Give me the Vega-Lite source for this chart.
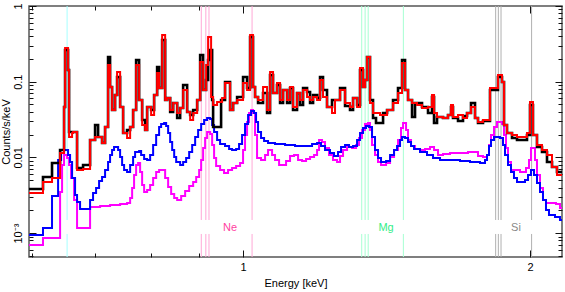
{
"$schema":"https://vega.github.io/schema/vega-lite/v6.json",
"width":533,"height":251,
"autosize":{"type":"none"},
"padding":{"left":29,"top":6,"right":3,"bottom":35},
"config":{"view":{"stroke":"#555","strokeWidth":1.5},"font":"Liberation Sans","axis":{"grid":false,"domain":false,"labelFont":"Liberation Sans","titleFont":"Liberation Sans","tickColor":"#111","tickWidth":1,"labelColor":"#000","titleColor":"#000","titleFontWeight":"normal"}},
"datasets":{
"lines":[{"e":0.6537,"g":"O"},{"e":0.904,"g":"Ne"},{"e":0.914,"g":"Ne"},{"e":0.921,"g":"Ne"},{"e":1.022,"g":"Ne"},{"e":1.332,"g":"Mg"},{"e":1.343,"g":"Mg"},{"e":1.353,"g":"Mg"},{"e":1.473,"g":"Mg"},{"e":1.841,"g":"Si"},{"e":1.853,"g":"Si"},{"e":1.865,"g":"Si"},{"e":2.008,"g":"Si"}],
"labels":[{"e":0.969,"t":"Ne"},{"e":1.4127,"t":"Mg"},{"e":1.9337,"t":"Si"}],
"black":[{"e":0.5962,"c":0.003823},{"e":0.6167,"c":0.005507},{"e":0.6303,"c":0.008432},{"e":0.6427,"c":0.01252},{"e":0.6489,"c":0.04631},{"e":0.6505,"c":0.2623},{"e":0.6552,"c":0.1427},{"e":0.6568,"c":0.02165},{"e":0.6696,"c":0.007241},{"e":0.6794,"c":0.007934},{"e":0.691,"c":0.01697},{"e":0.6994,"c":0.02679},{"e":0.7045,"c":0.01859},{"e":0.7113,"c":0.01549},{"e":0.7165,"c":0.02521},{"e":0.7217,"c":0.212},{"e":0.7252,"c":0.0851},{"e":0.7287,"c":0.04228},{"e":0.734,"c":0.06673},{"e":0.7376,"c":0.1154},{"e":0.743,"c":0.04631},{"e":0.7484,"c":0.021},{"e":0.7556,"c":0.02301},{"e":0.7612,"c":0.02521},{"e":0.7667,"c":0.04228},{"e":0.7723,"c":0.1935},{"e":0.7779,"c":0.05731},{"e":0.7836,"c":0.03119},{"e":0.7893,"c":0.02301},{"e":0.7931,"c":0.04631},{"e":0.8008,"c":0.04228},{"e":0.8066,"c":0.06673},{"e":0.8125,"c":0.1564},{"e":0.8164,"c":0.08255},{"e":0.8224,"c":0.3555},{"e":0.8284,"c":0.05731},{"e":0.8324,"c":0.06091},{"e":0.8385,"c":0.03978},{"e":0.8446,"c":0.05231},{"e":0.8528,"c":0.03314},{"e":0.859,"c":0.04492},{"e":0.8652,"c":0.09045},{"e":0.8736,"c":0.03978},{"e":0.88,"c":0.03631},{"e":0.8864,"c":0.04228},{"e":0.895,"c":0.05731},{"e":0.9015,"c":0.2253},{"e":0.908,"c":0.07769},{"e":0.9146,"c":0.1053},{"e":0.919,"c":0.1935},{"e":0.9235,"c":0.2623},{"e":0.928,"c":0.05731},{"e":0.9302,"c":0.02521},{"e":0.9483,"c":0.05731},{"e":0.9574,"c":0.09908},{"e":0.9691,"c":0.04228},{"e":0.9762,"c":0.05231},{"e":0.9857,"c":0.06279},{"e":1.0,"c":0.1154},{"e":1.0097,"c":0.08255},{"e":1.0171,"c":0.3894},{"e":1.0244,"c":0.0851},{"e":1.0294,"c":0.06279},{"e":1.0369,"c":0.05231},{"e":1.0495,"c":0.07091},{"e":1.0597,"c":0.03859},{"e":1.0674,"c":0.1226},{"e":1.0751,"c":0.07091},{"e":1.0855,"c":0.09045},{"e":1.0935,"c":0.05231},{"e":1.1015,"c":0.07769},{"e":1.1122,"c":0.05231},{"e":1.1202,"c":0.08255},{"e":1.1283,"c":0.04228},{"e":1.1393,"c":0.07091},{"e":1.1476,"c":0.04922},{"e":1.156,"c":0.08255},{"e":1.1672,"c":0.0731},{"e":1.1757,"c":0.05231},{"e":1.1843,"c":0.06673},{"e":1.1958,"c":0.06091},{"e":1.2044,"c":0.1154},{"e":1.2131,"c":0.07769},{"e":1.2249,"c":0.04631},{"e":1.2398,"c":0.05731},{"e":1.264,"c":0.08255},{"e":1.2794,"c":0.04774},{"e":1.2949,"c":0.04228},{"e":1.3044,"c":0.06091},{"e":1.3171,"c":0.04922},{"e":1.3266,"c":0.1427},{"e":1.3362,"c":0.0851},{"e":1.3427,"c":0.1053},{"e":1.3492,"c":0.212},{"e":1.359,"c":0.05731},{"e":1.3689,"c":0.03314},{"e":1.3788,"c":0.02847},{"e":1.4025,"c":0.03859},{"e":1.4161,"c":0.04228},{"e":1.4367,"c":0.05731},{"e":1.4541,"c":0.08255},{"e":1.4683,"c":0.1935},{"e":1.479,"c":0.07769},{"e":1.4897,"c":0.05731},{"e":1.5042,"c":0.03416},{"e":1.5151,"c":0.05231},{"e":1.5409,"c":0.04631},{"e":1.5634,"c":0.03859},{"e":1.5786,"c":0.06279},{"e":1.5863,"c":0.02847},{"e":1.5978,"c":0.03416},{"e":1.621,"c":0.03314},{"e":1.6407,"c":0.03631},{"e":1.6527,"c":0.04631},{"e":1.6607,"c":0.03314},{"e":1.6809,"c":0.03025},{"e":1.7013,"c":0.03522},{"e":1.7179,"c":0.03859},{"e":1.7345,"c":0.05231},{"e":1.7514,"c":0.03314},{"e":1.7641,"c":0.02847},{"e":1.7855,"c":0.03025},{"e":1.816,"c":0.07769},{"e":1.8514,"c":0.1154},{"e":1.8694,"c":0.09908},{"e":1.8785,"c":0.02679},{"e":1.8921,"c":0.021},{"e":1.9151,"c":0.01804},{"e":1.9384,"c":0.01697},{"e":1.9858,"c":0.01976},{"e":2.0002,"c":0.04922},{"e":2.0147,"c":0.01976},{"e":2.0343,"c":0.01372},{"e":2.059,"c":0.01178},{"e":2.0841,"c":0.008692},{"e":2.1094,"c":0.007465},{"e":2.135,"c":0.006412},{"e":2.161,"c":0.006412}],
"red":[{"e":0.5962,"c":0.003385},{"e":0.6167,"c":0.00473},{"e":0.6303,"c":0.005342},{"e":0.6427,"c":0.01143},{"e":0.6489,"c":0.04631},{"e":0.6505,"c":0.2787},{"e":0.6552,"c":0.1427},{"e":0.6568,"c":0.01859},{"e":0.6616,"c":0.021},{"e":0.6632,"c":0.02165},{"e":0.6696,"c":0.006815},{"e":0.6794,"c":0.007024},{"e":0.691,"c":0.01697},{"e":0.6994,"c":0.01859},{"e":0.7113,"c":0.01549},{"e":0.7165,"c":0.02521},{"e":0.7217,"c":0.1662},{"e":0.7252,"c":0.0851},{"e":0.7287,"c":0.04228},{"e":0.734,"c":0.06673},{"e":0.7376,"c":0.1343},{"e":0.743,"c":0.04631},{"e":0.7484,"c":0.021},{"e":0.7556,"c":0.01804},{"e":0.7612,"c":0.02521},{"e":0.7667,"c":0.04228},{"e":0.7723,"c":0.1662},{"e":0.7779,"c":0.05731},{"e":0.7836,"c":0.02679},{"e":0.7893,"c":0.02301},{"e":0.7931,"c":0.04631},{"e":0.8008,"c":0.03631},{"e":0.8066,"c":0.06673},{"e":0.8125,"c":0.1302},{"e":0.8164,"c":0.08255},{"e":0.8224,"c":0.4139},{"e":0.8284,"c":0.05731},{"e":0.8324,"c":0.06091},{"e":0.8385,"c":0.04228},{"e":0.8446,"c":0.05231},{"e":0.8528,"c":0.03859},{"e":0.859,"c":0.04492},{"e":0.8652,"c":0.07769},{"e":0.8736,"c":0.03978},{"e":0.88,"c":0.03119},{"e":0.8864,"c":0.03859},{"e":0.895,"c":0.05731},{"e":0.9015,"c":0.1821},{"e":0.908,"c":0.07769},{"e":0.9146,"c":0.1662},{"e":0.919,"c":0.3894},{"e":0.9257,"c":0.06279},{"e":0.9302,"c":0.04922},{"e":0.9392,"c":0.05392},{"e":0.9506,"c":0.06091},{"e":0.9574,"c":0.09611},{"e":0.9691,"c":0.04228},{"e":0.9762,"c":0.05231},{"e":0.9857,"c":0.05731},{"e":1.0,"c":0.09611},{"e":1.0097,"c":0.07769},{"e":1.0171,"c":0.4139},{"e":1.0244,"c":0.0851},{"e":1.0294,"c":0.06279},{"e":1.0369,"c":0.05731},{"e":1.0495,"c":0.0851},{"e":1.0597,"c":0.04228},{"e":1.0674,"c":0.1343},{"e":1.0751,"c":0.07091},{"e":1.0855,"c":0.09611},{"e":1.0935,"c":0.05731},{"e":1.1015,"c":0.07769},{"e":1.1122,"c":0.05731},{"e":1.1202,"c":0.0851},{"e":1.1283,"c":0.04631},{"e":1.1393,"c":0.07091},{"e":1.1476,"c":0.05731},{"e":1.156,"c":0.07769},{"e":1.1672,"c":0.06279},{"e":1.1757,"c":0.05731},{"e":1.1843,"c":0.06279},{"e":1.1958,"c":0.05731},{"e":1.2044,"c":0.1053},{"e":1.2131,"c":0.06279},{"e":1.2249,"c":0.04631},{"e":1.2398,"c":0.03859},{"e":1.2488,"c":0.05731},{"e":1.264,"c":0.07769},{"e":1.2794,"c":0.05231},{"e":1.2949,"c":0.04631},{"e":1.3044,"c":0.06091},{"e":1.3171,"c":0.04631},{"e":1.3266,"c":0.1517},{"e":1.3362,"c":0.0851},{"e":1.3427,"c":0.1053},{"e":1.3492,"c":0.212},{"e":1.359,"c":0.05231},{"e":1.3689,"c":0.03859},{"e":1.3922,"c":0.03631},{"e":1.4161,"c":0.04228},{"e":1.4367,"c":0.05231},{"e":1.4541,"c":0.07091},{"e":1.4683,"c":0.1766},{"e":1.479,"c":0.07769},{"e":1.4897,"c":0.05731},{"e":1.5042,"c":0.05231},{"e":1.5224,"c":0.04922},{"e":1.5409,"c":0.04492},{"e":1.5634,"c":0.04631},{"e":1.5786,"c":0.06673},{"e":1.5863,"c":0.03859},{"e":1.5978,"c":0.03416},{"e":1.621,"c":0.03314},{"e":1.6407,"c":0.03631},{"e":1.6527,"c":0.04922},{"e":1.6607,"c":0.03416},{"e":1.6809,"c":0.03631},{"e":1.7013,"c":0.03314},{"e":1.7179,"c":0.03859},{"e":1.7345,"c":0.04631},{"e":1.7514,"c":0.03314},{"e":1.7641,"c":0.02935},{"e":1.7855,"c":0.03119},{"e":1.816,"c":0.08255},{"e":1.8514,"c":0.1226},{"e":1.8694,"c":0.09908},{"e":1.8785,"c":0.02679},{"e":1.8921,"c":0.021},{"e":1.9151,"c":0.01976},{"e":1.9384,"c":0.01859},{"e":1.9858,"c":0.021},{"e":2.0002,"c":0.05392},{"e":2.0147,"c":0.01976},{"e":2.0343,"c":0.01458},{"e":2.059,"c":0.01252},{"e":2.0841,"c":0.01075},{"e":2.1094,"c":0.007465},{"e":2.135,"c":0.005853},{"e":2.161,"c":0.005853}],
"blue":[{"e":0.5962,"c":0.0009438},{"e":0.6167,"c":0.001167},{"e":0.6303,"c":0.00309},{"e":0.6396,"c":0.009238},{"e":0.6443,"c":0.01143},{"e":0.6489,"c":0.01252},{"e":0.6552,"c":0.01075},{"e":0.6584,"c":0.008692},{"e":0.6616,"c":0.005342},{"e":0.6664,"c":0.003186},{"e":0.6696,"c":0.002574},{"e":0.6745,"c":0.00208},{"e":0.691,"c":0.002736},{"e":0.696,"c":0.003385},{"e":0.7011,"c":0.003941},{"e":0.7062,"c":0.004876},{"e":0.7113,"c":0.005507},{"e":0.7165,"c":0.006815},{"e":0.7217,"c":0.008692},{"e":0.7252,"c":0.01075},{"e":0.7287,"c":0.01252},{"e":0.7322,"c":0.01372},{"e":0.7394,"c":0.01252},{"e":0.743,"c":0.01012},{"e":0.7466,"c":0.007934},{"e":0.7502,"c":0.006815},{"e":0.7556,"c":0.006412},{"e":0.7612,"c":0.007934},{"e":0.7667,"c":0.01012},{"e":0.7704,"c":0.01178},{"e":0.7779,"c":0.01214},{"e":0.7817,"c":0.01075},{"e":0.7874,"c":0.009517},{"e":0.7931,"c":0.009238},{"e":0.7989,"c":0.01075},{"e":0.8047,"c":0.01458},{"e":0.8106,"c":0.01976},{"e":0.8164,"c":0.02521},{"e":0.8204,"c":0.02761},{"e":0.8264,"c":0.02847},{"e":0.8304,"c":0.02599},{"e":0.8344,"c":0.021},{"e":0.8385,"c":0.01597},{"e":0.8426,"c":0.01252},{"e":0.8467,"c":0.01012},{"e":0.8508,"c":0.008692},{"e":0.859,"c":0.007934},{"e":0.8652,"c":0.008692},{"e":0.8715,"c":0.009812},{"e":0.8779,"c":0.01178},{"e":0.8843,"c":0.01458},{"e":0.8907,"c":0.01859},{"e":0.8971,"c":0.02301},{"e":0.9037,"c":0.02761},{"e":0.9102,"c":0.03119},{"e":0.9168,"c":0.03314},{"e":0.9235,"c":0.03215},{"e":0.928,"c":0.02679},{"e":0.9324,"c":0.02165},{"e":0.9392,"c":0.01697},{"e":0.946,"c":0.01502},{"e":0.9574,"c":0.01414},{"e":0.9668,"c":0.01291},{"e":0.9738,"c":0.01252},{"e":0.9833,"c":0.01291},{"e":0.9904,"c":0.01502},{"e":0.9976,"c":0.01976},{"e":1.0048,"c":0.02761},{"e":1.0122,"c":0.03631},{"e":1.0196,"c":0.04101},{"e":1.0269,"c":0.03859},{"e":1.0319,"c":0.02935},{"e":1.0369,"c":0.02165},{"e":1.0444,"c":0.01804},{"e":1.0521,"c":0.01646},{"e":1.0622,"c":0.01549},{"e":1.0803,"c":0.01502},{"e":1.1068,"c":0.01458},{"e":1.1338,"c":0.01414},{"e":1.1814,"c":0.01502},{"e":1.1958,"c":0.01549},{"e":1.2073,"c":0.01414},{"e":1.219,"c":0.01252},{"e":1.2338,"c":0.01143},{"e":1.2458,"c":0.01043},{"e":1.2579,"c":0.01178},{"e":1.2671,"c":0.01372},{"e":1.2794,"c":0.01458},{"e":1.2918,"c":0.01372},{"e":1.3044,"c":0.01414},{"e":1.3171,"c":0.01697},{"e":1.3266,"c":0.021},{"e":1.3362,"c":0.02445},{"e":1.3459,"c":0.02599},{"e":1.3557,"c":0.02521},{"e":1.3656,"c":0.01859},{"e":1.3755,"c":0.01252},{"e":1.3855,"c":0.009812},{"e":1.3956,"c":0.008692},{"e":1.4127,"c":0.008961},{"e":1.4264,"c":0.01075},{"e":1.4402,"c":0.01252},{"e":1.4507,"c":0.01414},{"e":1.4612,"c":0.01697},{"e":1.4683,"c":0.01859},{"e":1.479,"c":0.01804},{"e":1.4897,"c":0.01597},{"e":1.5005,"c":0.01414},{"e":1.5114,"c":0.01291},{"e":1.5335,"c":0.01178},{"e":1.5596,"c":0.01075},{"e":1.5824,"c":0.009812},{"e":1.6094,"c":0.009238},{"e":1.689,"c":0.008961},{"e":1.7303,"c":0.008692},{"e":1.7727,"c":0.008432},{"e":1.7942,"c":0.009238},{"e":1.8029,"c":0.01075},{"e":1.8116,"c":0.01414},{"e":1.8204,"c":0.01697},{"e":1.8337,"c":0.01859},{"e":1.8604,"c":0.01804},{"e":1.8739,"c":0.01458},{"e":1.883,"c":0.01075},{"e":1.8967,"c":0.007934},{"e":1.9105,"c":0.006412},{"e":1.9243,"c":0.005342},{"e":1.9384,"c":0.00473},{"e":1.9762,"c":0.005027},{"e":1.9906,"c":0.005853},{"e":2.005,"c":0.006815},{"e":2.0196,"c":0.005853},{"e":2.0343,"c":0.004588},{"e":2.0491,"c":0.00349},{"e":2.064,"c":0.002736},{"e":2.079,"c":0.002018},{"e":2.0941,"c":0.001734},{"e":2.1247,"c":0.001632},{"e":2.1505,"c":0.001489},{"e":2.161,"c":0.001489}],
"magenta":[{"e":0.5962,"c":0.0006962},{"e":0.6167,"c":0.0008614},{"e":0.6427,"c":0.00349},{"e":0.6458,"c":0.007934},{"e":0.6489,"c":0.01075},{"e":0.6537,"c":0.009812},{"e":0.6568,"c":0.007934},{"e":0.66,"c":0.005342},{"e":0.6648,"c":0.002736},{"e":0.6696,"c":0.001167},{"e":0.691,"c":0.002211},{"e":0.7079,"c":0.00228},{"e":0.7252,"c":0.00235},{"e":0.743,"c":0.002422},{"e":0.7556,"c":0.002497},{"e":0.7612,"c":0.002908},{"e":0.7649,"c":0.003941},{"e":0.7685,"c":0.005853},{"e":0.7723,"c":0.007934},{"e":0.776,"c":0.008432},{"e":0.7798,"c":0.006412},{"e":0.7836,"c":0.004318},{"e":0.7874,"c":0.00349},{"e":0.7931,"c":0.003709},{"e":0.7989,"c":0.004318},{"e":0.8047,"c":0.005342},{"e":0.8106,"c":0.006412},{"e":0.8164,"c":0.006815},{"e":0.8284,"c":0.005342},{"e":0.8344,"c":0.004063},{"e":0.8405,"c":0.003284},{"e":0.8467,"c":0.002908},{"e":0.8528,"c":0.002736},{"e":0.8611,"c":0.00309},{"e":0.8694,"c":0.003598},{"e":0.8779,"c":0.004188},{"e":0.8864,"c":0.00473},{"e":0.8929,"c":0.005507},{"e":0.8993,"c":0.006815},{"e":0.9037,"c":0.009238},{"e":0.908,"c":0.01331},{"e":0.9124,"c":0.01804},{"e":0.9168,"c":0.02165},{"e":0.9235,"c":0.02037},{"e":0.928,"c":0.01458},{"e":0.9324,"c":0.009812},{"e":0.937,"c":0.007696},{"e":0.946,"c":0.006815},{"e":0.9551,"c":0.00622},{"e":0.9644,"c":0.006815},{"e":0.9738,"c":0.007241},{"e":0.9833,"c":0.007696},{"e":0.9928,"c":0.008432},{"e":1.0,"c":0.01252},{"e":1.0048,"c":0.01976},{"e":1.0097,"c":0.02935},{"e":1.0146,"c":0.03859},{"e":1.0196,"c":0.04228},{"e":1.0244,"c":0.03859},{"e":1.0294,"c":0.01976},{"e":1.0344,"c":0.009812},{"e":1.0444,"c":0.009238},{"e":1.0546,"c":0.01075},{"e":1.0622,"c":0.01252},{"e":1.0726,"c":0.01075},{"e":1.0803,"c":0.009238},{"e":1.0909,"c":0.007934},{"e":1.1095,"c":0.008961},{"e":1.1202,"c":0.01043},{"e":1.1311,"c":0.01075},{"e":1.1421,"c":0.009238},{"e":1.1532,"c":0.008961},{"e":1.1644,"c":0.009517},{"e":1.1757,"c":0.01012},{"e":1.1871,"c":0.01075},{"e":1.1958,"c":0.01252},{"e":1.2015,"c":0.01697},{"e":1.2102,"c":0.01597},{"e":1.219,"c":0.01331},{"e":1.2308,"c":0.01075},{"e":1.2427,"c":0.009238},{"e":1.2549,"c":0.008692},{"e":1.264,"c":0.01043},{"e":1.2732,"c":0.01252},{"e":1.2856,"c":0.01372},{"e":1.3012,"c":0.01331},{"e":1.3139,"c":0.01458},{"e":1.3234,"c":0.01804},{"e":1.333,"c":0.02301},{"e":1.3427,"c":0.02761},{"e":1.3524,"c":0.02847},{"e":1.359,"c":0.02301},{"e":1.3656,"c":0.01458},{"e":1.3755,"c":0.01075},{"e":1.3855,"c":0.008692},{"e":1.3956,"c":0.007934},{"e":1.4127,"c":0.008432},{"e":1.4264,"c":0.01012},{"e":1.4402,"c":0.01252},{"e":1.4541,"c":0.01697},{"e":1.4647,"c":0.02445},{"e":1.4719,"c":0.02847},{"e":1.4826,"c":0.02301},{"e":1.4897,"c":0.01697},{"e":1.5005,"c":0.01414},{"e":1.5151,"c":0.01291},{"e":1.5335,"c":0.01252},{"e":1.5521,"c":0.01291},{"e":1.571,"c":0.01372},{"e":1.5863,"c":0.01252},{"e":1.6016,"c":0.01075},{"e":1.621,"c":0.01108},{"e":1.6487,"c":0.01143},{"e":1.722,"c":0.01178},{"e":1.7641,"c":0.01043},{"e":1.7855,"c":0.01012},{"e":1.8029,"c":0.01075},{"e":1.8116,"c":0.01458},{"e":1.8204,"c":0.01976},{"e":1.8337,"c":0.02521},{"e":1.847,"c":0.02935},{"e":1.8694,"c":0.02761},{"e":1.8785,"c":0.01976},{"e":1.8876,"c":0.01331},{"e":1.8967,"c":0.008692},{"e":1.9105,"c":0.006815},{"e":1.9525,"c":0.006412},{"e":1.981,"c":0.007241},{"e":1.9954,"c":0.009238},{"e":2.005,"c":0.01331},{"e":2.0245,"c":0.009238},{"e":2.0343,"c":0.005853},{"e":2.0491,"c":0.003941},{"e":2.064,"c":0.002736},{"e":2.079,"c":0.002497},{"e":2.1298,"c":0.002422},{"e":2.1505,"c":0.002145},{"e":2.161,"c":0.002145}]
},
"layer":[
{"data":{"name":"lines"},"mark":{"type":"rule","strokeWidth":1},
 "encoding":{
  "x":{"field":"e","type":"quantitative","scale":{"type":"log","domain":[0.5962,2.161],"nice":false},"axis":{"orient":"top","values":[0.6,0.7,0.8,0.9],"labels":false,"tickSize":-4,"title":null}},
  "y":{"datum":1,"type":"quantitative","scale":{"type":"log","domain":[0.000483,1],"nice":false},"axis":{"orient":"right","values":[0.0005,0.0006,0.0007,0.0008,0.0009,0.002,0.003,0.004,0.005,0.006,0.007,0.008,0.009,0.02,0.03,0.04,0.05,0.06,0.07,0.08,0.09,0.2,0.3,0.4,0.5,0.6,0.7,0.8,0.9],"labels":false,"tickSize":-4,"title":null}},
  "y2":{"datum":0.001489},
  "stroke":{"field":"g","type":"nominal","scale":{"domain":["O","Ne","Mg","Si"],"range":["#a6ffff","#ffa8d6","#a6ffd2","#b0b0b0"]},"legend":null}}},
{"data":{"name":"lines"},"mark":{"type":"rule","strokeWidth":1},
 "encoding":{
  "x":{"field":"e","type":"quantitative","scale":{"type":"log","domain":[0.5962,2.161],"nice":false},"axis":null},
  "y":{"datum":0.000973,"type":"quantitative","scale":{"type":"log","domain":[0.000483,1],"nice":false},"axis":null},
  "y2":{"datum":0.000483},
  "stroke":{"field":"g","type":"nominal","legend":null}}},
{"data":{"name":"labels"},"mark":{"type":"text","fontSize":11,"font":"Liberation Sans"},
 "encoding":{
  "x":{"field":"e","type":"quantitative","scale":{"type":"log","domain":[0.5962,2.161],"nice":false},"axis":null},
  "y":{"datum":0.001167,"type":"quantitative","scale":{"type":"log","domain":[0.000483,1],"nice":false},"axis":null},
  "text":{"field":"t"},
  "fill":{"field":"t","type":"nominal","scale":{"domain":["Ne","Mg","Si"],"range":["#ff3f9f","#33ee88","#888888"]},"legend":null}}},
{"data":{"name":"magenta"},"mark":{"type":"line","interpolate":"step-after","color":"#ff00ff","strokeWidth":2,"clip":true},
 "encoding":{
  "x":{"field":"e","type":"quantitative","scale":{"type":"log","domain":[0.5962,2.161],"nice":false},"axis":{"orient":"top","values":[1,2],"labels":false,"tickSize":-7,"title":null}},
  "y":{"field":"c","type":"quantitative","scale":{"type":"log","domain":[0.000483,1],"nice":false},"axis":{"orient":"right","values":[0.001,0.01,0.1,1],"labels":false,"tickSize":-7,"title":null}}}},
{"data":{"name":"blue"},"mark":{"type":"line","interpolate":"step-after","color":"#0000ff","strokeWidth":2,"clip":true},
 "encoding":{
  "x":{"field":"e","type":"quantitative","scale":{"type":"log","domain":[0.5962,2.161],"nice":false},"axis":{"orient":"bottom","values":[0.6,0.7,0.8,0.9],"labels":false,"tickSize":-4,"title":null}},
  "y":{"field":"c","type":"quantitative","scale":{"type":"log","domain":[0.000483,1],"nice":false},"axis":{"orient":"left","values":[0.0005,0.0006,0.0007,0.0008,0.0009,0.002,0.003,0.004,0.005,0.006,0.007,0.008,0.009,0.02,0.03,0.04,0.05,0.06,0.07,0.08,0.09,0.2,0.3,0.4,0.5,0.6,0.7,0.8,0.9],"labels":false,"tickSize":-4,"title":null}}}},
{"data":{"name":"black"},"mark":{"type":"line","interpolate":"step-after","color":"#000000","strokeWidth":2.6,"clip":true},
 "encoding":{
  "x":{"field":"e","type":"quantitative","scale":{"type":"log","domain":[0.5962,2.161],"nice":false},"axis":{"orient":"bottom","values":[1,2],"labelExpr":"datum.value < 1.5 ? '1' : '2'","ticks":false,"labelFontSize":11,"labelPadding":4,"labelFlush":false,"title":"Energy [keV]","titleFontSize":11,"titlePadding":5}},
  "y":{"field":"c","type":"quantitative","scale":{"type":"log","domain":[0.000483,1],"nice":false},"axis":{"orient":"left","values":[0.001,0.01,0.1,1],"labelExpr":"datum.value > 0.5 ? '1' : datum.value > 0.05 ? '0.1' : datum.value > 0.005 ? '0.01' : '10⁻³'","labelAngle":-90,"labelAlign":"center","labelBaseline":"bottom","ticks":false,"labelFontSize":11,"labelPadding":6,"title":"Counts/s/keV","titleFontSize":11,"titlePadding":1}}}},
{"data":{"name":"red"},"mark":{"type":"line","interpolate":"step-after","color":"#ff0000","strokeWidth":2,"clip":true},
 "encoding":{
  "x":{"field":"e","type":"quantitative","scale":{"type":"log","domain":[0.5962,2.161],"nice":false},"axis":{"orient":"bottom","values":[1,2],"labels":false,"tickSize":-7,"title":null}},
  "y":{"field":"c","type":"quantitative","scale":{"type":"log","domain":[0.000483,1],"nice":false},"axis":{"orient":"left","values":[0.001,0.01,0.1,1],"labels":false,"tickSize":-7,"title":null}}}}
],
"resolve":{"axis":{"x":"independent","y":"independent"}}
}
